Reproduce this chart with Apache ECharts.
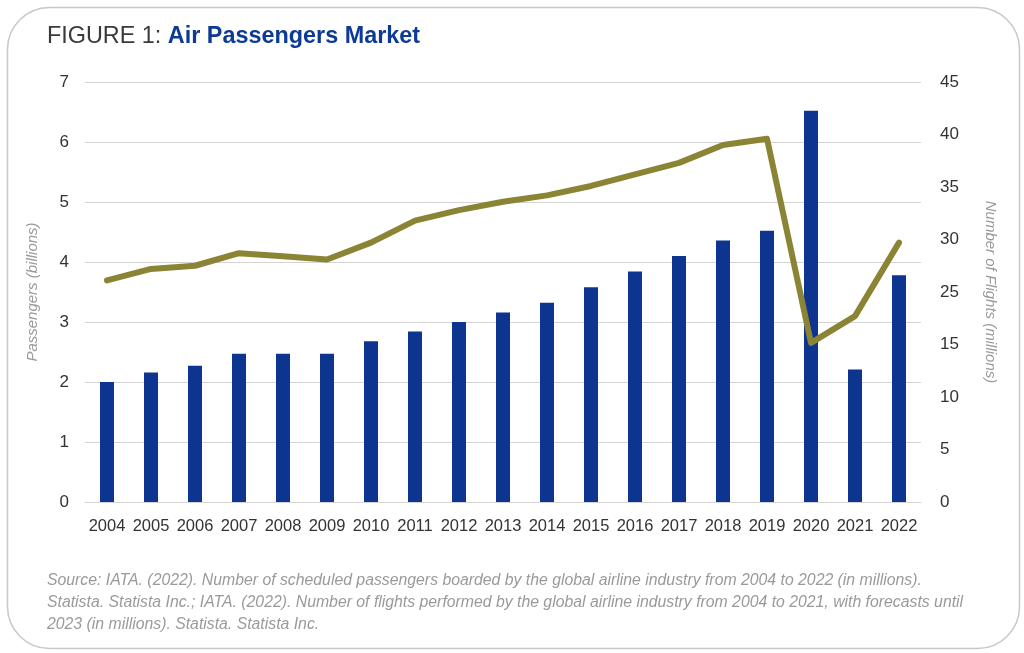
<!DOCTYPE html>
<html>
<head>
<meta charset="utf-8">
<script src="https://cdn.jsdelivr.net/npm/echarts@6/dist/echarts.min.js"></script>
<style>
html,body{margin:0;padding:0;background:#fff;}
#c{width:1024px;height:653px;}
</style>
</head>
<body>
<div id="c"></div>
<script>
const years = ['2004','2005','2006','2007','2008','2009','2010','2011','2012','2013','2014','2015','2016','2017','2018','2019','2020','2021','2022'];
const passengers = [2.0,2.16,2.27,2.47,2.47,2.47,2.68,2.84,3.0,3.16,3.32,3.58,3.84,4.1,4.36,4.52,6.52,2.21,3.78];
const flights = [26.1,27.2,27.5,28.7,28.4,28.1,29.7,31.8,32.8,33.6,34.2,35.1,36.2,37.3,39.0,39.6,15.3,20.4,29.7];
const leftTicks = ['0','1','2','3','4','5','6','7'];
const rightTicks = ['0','5','10','15','25','30','35','40','45'];

// right axis in the reference is evenly spaced but labelled 0,5,10,15,25,...,45
function toAxis(v){
  if (v <= 15) return v;
  if (v < 25) return 15 + (v - 15) / 2;
  return v - 5;
}

const chart = echarts.init(document.getElementById('c'));
chart.setOption({
  animation: false,
  backgroundColor: '#fff',
  graphic: [
    {type:'rect', left:5, top:5, shape:{width:1012, height:641, r:42}, style:{fill:'none', stroke:'#c8c8c8', lineWidth:1.5}, z:-1},
    {type:'text', left:47, top:25, style:{
      rich:{
        a:{fontFamily:'Liberation Sans', fontSize:23.4, fill:'#3a3a3a', fontWeight:'normal'},
        b:{fontFamily:'Liberation Sans', fontSize:23.4, fill:'#0d3a94', fontWeight:'bold'}
      },
      text:'{a|FIGURE 1: }{b|Air Passengers Market}'
    }},
    {type:'text', left:47, top:570, style:{
      text:'Source: IATA. (2022). Number of scheduled passengers boarded by the global airline industry from 2004 to 2022 (in millions).\nStatista. Statista Inc.; IATA. (2022). Number of flights performed by the global airline industry from 2004 to 2021, with forecasts until\n2023 (in millions). Statista. Statista Inc.',
      fontFamily:'Liberation Sans', fontStyle:'italic', fontSize:15.8, lineHeight:22, fill:'#9a9a9a'
    }}
  ],
  grid: {left:85, right:103, top:82, bottom:151},
  xAxis: {
    type:'category', data: years,
    axisLine:{lineStyle:{color:'#d4d4d4', width:1}},
    axisTick:{show:false},
    axisLabel:{color:'#333', fontSize:16.5, fontFamily:'Liberation Sans', margin:16, interval:0}
  },
  yAxis: [
    {
      type:'value', min:0, max:7, interval:1, position:'left',
      name:'Passengers (billions)', nameLocation:'middle', nameGap:45, nameRotate:90,
      nameTextStyle:{color:'#9a9a9a', fontSize:15, fontStyle:'italic', fontFamily:'Liberation Sans'},
      axisLine:{show:false}, axisTick:{show:false},
      axisLabel:{color:'#333', fontSize:17, fontFamily:'Liberation Sans', margin:16,
        formatter:(v)=>leftTicks[Math.round(v)]},
      splitLine:{lineStyle:{color:'#d4d4d4', width:1}}
    },
    {
      type:'value', min:0, max:40, interval:5, position:'right',
      name:'Number of Flights (millions)', nameLocation:'middle', nameGap:62, nameRotate:-90,
      nameTextStyle:{color:'#9a9a9a', fontSize:15, fontStyle:'italic', fontFamily:'Liberation Sans'},
      axisLine:{show:false}, axisTick:{show:false},
      axisLabel:{color:'#333', fontSize:17, fontFamily:'Liberation Sans', margin:19,
        formatter:(v)=>rightTicks[Math.round(v/5)]},
      splitLine:{show:false}
    }
  ],
  series: [
    {type:'bar', data: passengers, yAxisIndex:0, barWidth:14,
     itemStyle:{color:'#0d358f'}},
    {type:'line', data: flights.map(toAxis), yAxisIndex:1, symbol:'none',
     lineStyle:{color:'#8b8435', width:6, cap:'round', join:'round'}, z:3}
  ]
});
</script>
</body>
</html>
